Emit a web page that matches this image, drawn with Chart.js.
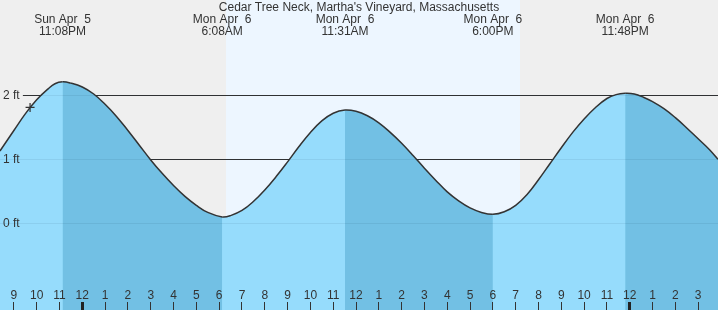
<!DOCTYPE html>
<html><head><meta charset="utf-8">
<script src="https://cdn.jsdelivr.net/npm/chart.js@4/dist/chart.umd.min.js"></script>
<style>html,body{margin:0;padding:0;background:#efefef;overflow:hidden}canvas{display:block}</style>
</head><body>
<canvas id="c" width="718" height="310"></canvas>
<script>
// ---- data (time in hours relative to Mon Apr 6 00:00) ----
const chartTitle = "Cedar Tree Neck, Martha's Vineyard, Massachusetts";
const tideTimes = [
  -3.61, -3, -2.5, -2, -1.5, -1.2, -0.867,
  -0.5, 0, 0.5, 1, 1.5, 2, 2.5, 3, 3.5, 4, 4.5, 5, 5.5, 6.133,
  6.5, 7, 7.5, 8, 8.5, 9, 9.5, 10, 10.5, 11, 11.517,
  12, 12.5, 13, 13.5, 14, 14.5, 15, 15.5, 16, 16.5, 17, 17.5, 18,
  18.5, 19, 19.5, 20, 20.5, 21, 21.5, 22, 22.5, 23, 23.4, 23.8,
  24.2, 24.6, 25, 25.5, 26, 26.5, 27, 27.5, 27.87
];
const tideHeights = [
  1.13, 1.45, 1.71, 1.93, 2.10, 2.18, 2.21,
  2.19, 2.13, 2.02, 1.86, 1.67, 1.45, 1.22, 0.99, 0.78, 0.59, 0.42, 0.28, 0.17, 0.10,
  0.12, 0.20, 0.34, 0.52, 0.73, 0.96, 1.20, 1.42, 1.60, 1.72, 1.77,
  1.75, 1.68, 1.57, 1.42, 1.25, 1.06, 0.86, 0.67, 0.49, 0.35, 0.24, 0.17, 0.14,
  0.18, 0.28, 0.45, 0.68, 0.93, 1.18, 1.42, 1.63, 1.81, 1.95, 2.01, 2.03,
  2.02, 1.97, 1.90, 1.79, 1.65, 1.49, 1.32, 1.15, 1.00
];
const extremeTimes = [-0.867, 6.133, 11.517, 18.0, 23.8];
const extremeDates = ["Sun Apr  5", "Mon Apr  6", "Mon Apr  6", "Mon Apr  6", "Mon Apr  6"];
const extremeClock = ["11:08PM", "6:08AM", "11:31AM", "6:00PM", "11:48PM"];
const nowTimes   = [-2.29];
const nowHeights = [1.81];
const sunTimes = [6.30, 19.19];          // sunrise, sunset
const hourTicks  = [-3,-2,-1,0,1,2,3,4,5,6,7,8,9,10,11,12,13,14,15,16,17,18,19,20,21,22,23,24,25,26,27];
const hourLabels = ["9","10","11","12","1","2","3","4","5","6","7","8","9","10","11","12","1","2","3","4","5","6","7","8","9","10","11","12","1","2","3"];
const ftTicks  = [0, 1, 2];
const ftLabels = ["0 ft", "1 ft", "2 ft"];
const midnightTicks = [0, 24];

// ---- styling ----
const FONT = '"Liberation Sans", Arial, sans-serif';
const TXT = '#333';
const NIGHT = '#efefef', DAY = '#edf6ff';
const RISE = '#96dcfc', FALL = '#72c0e4';
const TENSION = 0.4;

const bgPlugin = {
  id: 'bg',
  beforeDraw(chart) {
    const {ctx, width, height} = chart;
    const xs = chart.scales.x;
    ctx.save();
    ctx.fillStyle = NIGHT; ctx.fillRect(0, 0, width, height);
    const a = xs.getPixelForValue(sunTimes[0]), b = xs.getPixelForValue(sunTimes[1]);
    ctx.fillStyle = DAY; ctx.fillRect(a, 0, b - a, height);
    ctx.restore();
  }
};
const textPlugin = {
  id: 'texts',
  afterDraw(chart) {
    const {ctx, width} = chart;
    const xs = chart.scales.x;
    ctx.save();
    ctx.fillStyle = TXT;
    ctx.font = '12px ' + FONT;
    ctx.textAlign = 'center';
    ctx.textBaseline = 'middle';
    ctx.fillText(chartTitle, width / 2, 7.5);
    extremeTimes.forEach((t, i) => {
      const x = xs.getPixelForValue(t);
      ctx.fillText(extremeDates[i], x, 20);
      ctx.fillText(extremeClock[i], x, 32);
    });
    ctx.restore();
  }
};

const zeroPad = s => { s.paddingLeft = 0; s.paddingRight = 0; s.paddingTop = 0; s.paddingBottom = 0; };
const tidePoints = tideTimes.map((t, i) => ({x: t, y: tideHeights[i]}));

new Chart(document.getElementById('c'), {
  type: 'line',
  data: {
    datasets: [
      {
        data: nowTimes.map((t, i) => ({x: t, y: nowHeights[i]})),
        showLine: false, fill: false,
        pointStyle: 'cross', pointRadius: 4.5, pointBorderWidth: 1.2,
        pointBorderColor: '#333', pointBackgroundColor: '#333'
      },
      {
        // tide curve; falling-tide stretches shaded darker
        data: tidePoints,
        borderColor: '#333', borderWidth: 1.5,
        backgroundColor: 'rgba(0,0,0,0)',
        fill: 'start',
        pointRadius: 0,
        tension: TENSION,
        segment: {
          backgroundColor: c => c.p1.parsed.y < c.p0.parsed.y ? FALL : 'rgba(0,0,0,0)'
        }
      },
      {
        // base fill (rising tide colour) under the whole curve
        data: tidePoints,
        borderWidth: 0, borderColor: 'rgba(0,0,0,0)',
        backgroundColor: RISE,
        fill: 'start',
        pointRadius: 0,
        tension: TENSION
      }
    ]
  },
  options: {
    responsive: false, animation: false, events: [],
    layout: {padding: 0, autoPadding: false},
    plugins: {legend: {display: false}, tooltip: {enabled: false}, title: {display: false}},
    scales: {
      x: {
        type: 'linear', position: 'bottom', min: -3.608, max: 27.87,
        border: {display: false},
        grid: {
          z: 1,
          drawOnChartArea: false, drawTicks: true, tickLength: -8,
          tickColor: c => midnightTicks.includes(c.tick && c.tick.value) ? '#222' : '#333',
          tickWidth: c => midnightTicks.includes(c.tick && c.tick.value) ? 3 : 1
        },
        afterBuildTicks: s => { s.ticks = hourTicks.map(v => ({value: v})); },
        ticks: {
          z: 1,
          autoSkip: false, maxRotation: 0, minRotation: 0, mirror: true, padding: 7,
          color: TXT, font: {family: FONT, size: 12},
          callback: (v) => hourLabels[hourTicks.indexOf(v)]
        },
        afterFit: s => { s.height = 0; zeroPad(s); }
      },
      y: {
        type: 'linear', position: 'left', min: -1.355, max: 3.489,
        border: {display: false},
        grid: {drawTicks: false, color: c => (c.tick && c.tick.value > 0) ? '#333' : 'rgba(0,0,0,0)', lineWidth: 1},
        afterBuildTicks: s => { s.ticks = ftTicks.map(v => ({value: v})); },
        ticks: {
          mirror: true, padding: 3, color: 'rgba(0,0,0,0)', font: {family: FONT, size: 12},
          showLabelBackdrop: true, backdropColor: NIGHT, backdropPadding: {left: 3, right: 3, top: 1, bottom: 1},
          callback: v => ftLabels[ftTicks.indexOf(v)]
        },
        afterFit: s => { s.width = 0; zeroPad(s); }
      },
      y2: {
        type: 'linear', position: 'left', min: -1.355, max: 3.489,
        border: {display: false},
        grid: {z: 1, drawTicks: false, color: 'rgba(0,30,60,0.07)', lineWidth: 1},
        afterBuildTicks: s => { s.ticks = ftTicks.map(v => ({value: v})); },
        ticks: {
          z: 1,
          mirror: true, padding: 3, color: TXT, font: {family: FONT, size: 12},
          showLabelBackdrop: true,
          backdropColor: c => (c.tick && c.tick.value === 2) ? NIGHT : 'rgba(0,0,0,0)',
          backdropPadding: {left: 3, right: 3, top: 1, bottom: 1},
          callback: v => ftLabels[ftTicks.indexOf(v)]
        },
        afterFit: s => { s.width = 0; zeroPad(s); }
      }
    }
  },
  plugins: [bgPlugin, textPlugin]
});
</script>
</body></html>
